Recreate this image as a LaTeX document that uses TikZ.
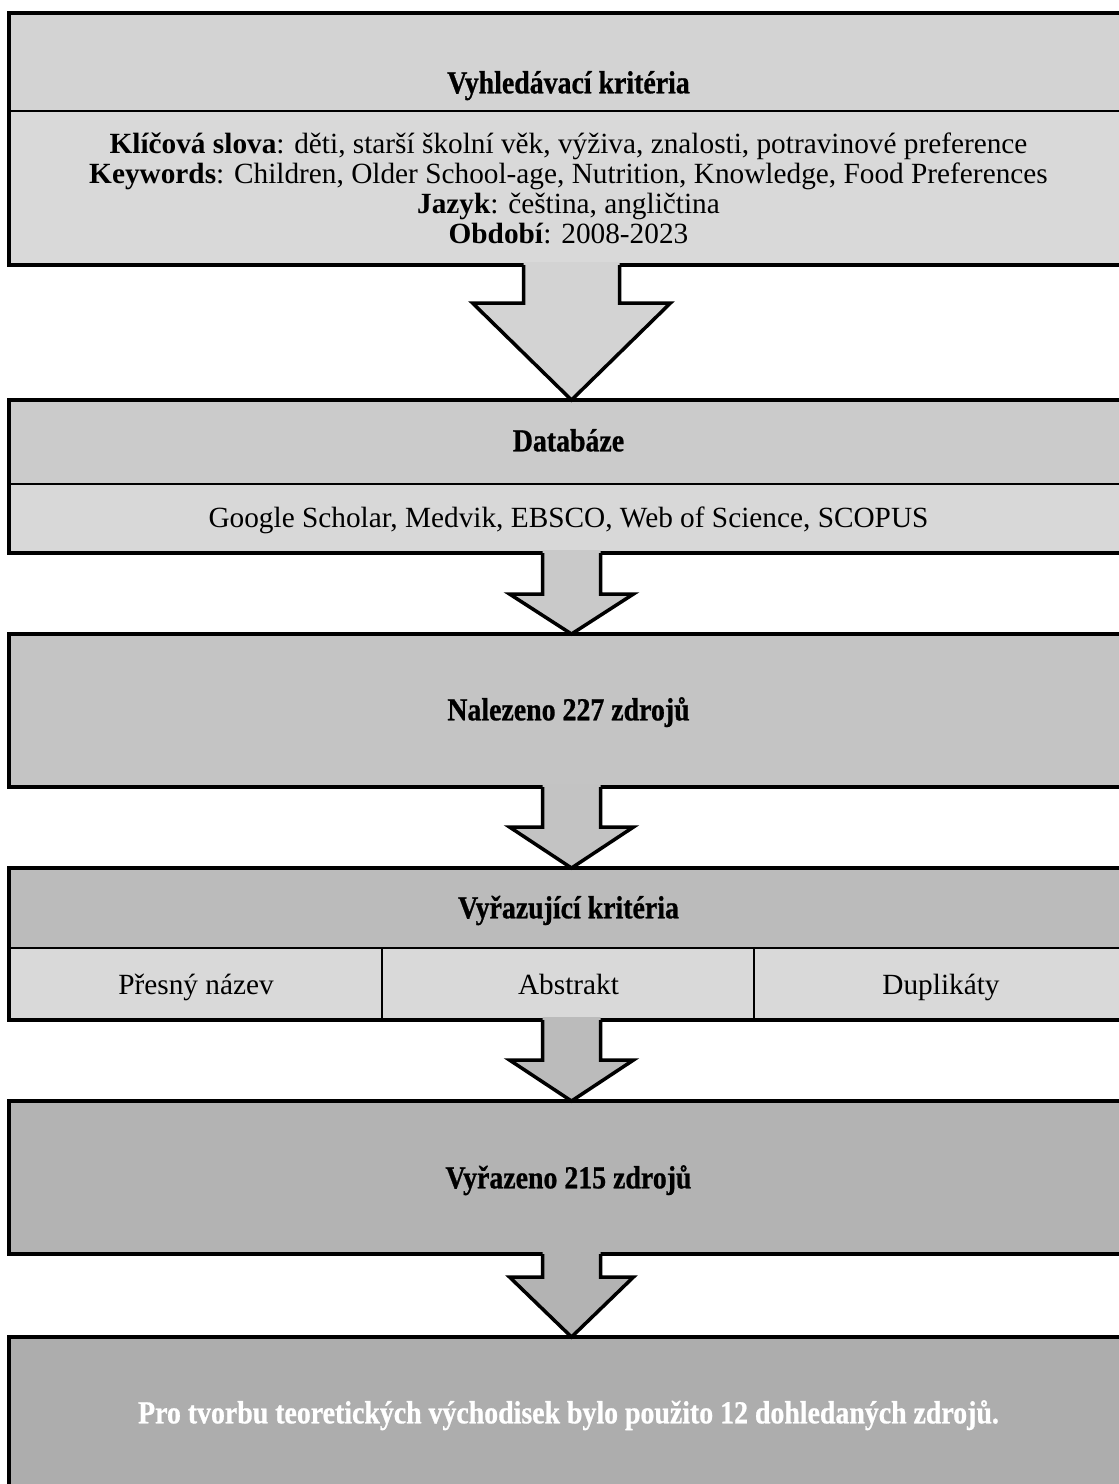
\documentclass[tikz,border=0pt]{standalone}
\usepackage{fontspec}
\setmainfont{Liberation Serif}
\newfontfamily\hdrfont[FakeStretch=0.87,FakeBold=0.8]{Liberation Serif}
\usetikzlibrary{calc}
\definecolor{cAh}{gray}{0.827}
\definecolor{cAb}{gray}{0.851}
\definecolor{cBh}{gray}{0.796}
\definecolor{cBb}{gray}{0.847}
\definecolor{cC}{gray}{0.769}
\definecolor{cDh}{gray}{0.733}
\definecolor{cDb}{gray}{0.851}
\definecolor{cE}{gray}{0.702}
\definecolor{cF}{gray}{0.678}
\definecolor{arA}{gray}{0.827}
\definecolor{arB}{gray}{0.788}
\definecolor{arC}{gray}{0.765}
\definecolor{arD}{gray}{0.733}
\definecolor{arE}{gray}{0.702}
\tikzset{
  panel/.style={draw=black, line width=2.5pt, inner sep=0pt, outer sep=0pt},
  outerbox/.style={draw=black, line width=4pt, inner sep=0pt, outer sep=0pt},
  hdrtext/.style={font=\hdrfont\bfseries\fontsize{32}{34}\selectfont, text height=0.66em, text depth=0pt, inner sep=0pt},
  bodytext/.style={font=\fontsize{29.3}{30}\selectfont, text height=0.66em, text depth=0pt, inner sep=0pt},
  arrowline/.style={draw=black, line width=3.5pt, line join=miter},
}
\begin{document}
\begin{tikzpicture}[x=1pt,y=-1pt]
\useasboundingbox (0,0) rectangle (1119,1484);
\clip (0,0) rectangle (1119,1484);
% ---- box 1
\node[panel, fill=cAh, minimum width=1126pt, minimum height=98pt, anchor=north west] (b1h) at (9,13) {};
\node[panel, fill=cAb, minimum width=1126pt, minimum height=154pt, anchor=north west] (b1b) at (9,111) {};
\node[outerbox, minimum width=1126pt, minimum height=252pt, anchor=north west] (b1) at (9,13) {};
\node[hdrtext] (t1) at (568.5,90) {Vyhledávací kritéria};
\node[font=\fontsize{29.3}{30}\selectfont, align=center, inner sep=0pt] (t1b) at (568.5,188)
 {\textbf{Klíčová slova}: děti, starší školní věk, výživa, znalosti, potravinové preference\\
  \textbf{Keywords}: Children, Older School-age, Nutrition, Knowledge, Food Preferences\\
  \textbf{Jazyk}: čeština, angličtina\\
  \textbf{Období}: 2008-2023};
% ---- box 2
\node[panel, fill=cBh, minimum width=1126pt, minimum height=84pt, anchor=north west] (b2h) at (9,400) {};
\node[panel, fill=cBb, minimum width=1126pt, minimum height=69pt, anchor=north west] (b2b) at (9,484) {};
\node[outerbox, minimum width=1126pt, minimum height=153pt, anchor=north west] (b2) at (9,400) {};
\node[hdrtext] (t2) at (568.5,448) {Databáze};
\node[bodytext] (t2b) at (568.5,524) {Google Scholar, Medvik, EBSCO, Web of Science, SCOPUS};
% ---- box 3
\node[outerbox, fill=cC, minimum width=1126pt, minimum height=153pt, anchor=north west] (b3) at (9,634) {};
\node[hdrtext] (t3) at (568.5,717) {Nalezeno 227 zdrojů};
% ---- box 4
\node[panel, fill=cDh, minimum width=1126pt, minimum height=80pt, anchor=north west] (b4h) at (9,868) {};
\node[panel, fill=cDb, minimum width=373pt, minimum height=72pt, anchor=north west] (b4a) at (9,948) {};
\node[panel, fill=cDb, minimum width=372pt, minimum height=72pt, anchor=north west] (b4b) at (382,948) {};
\node[panel, fill=cDb, minimum width=381pt, minimum height=72pt, anchor=north west] (b4c) at (754,948) {};
\node[outerbox, minimum width=1126pt, minimum height=152pt, anchor=north west] (b4) at (9,868) {};
\node[hdrtext] (t4) at (568.5,915) {Vyřazující kritéria};
\node[bodytext] (t4a) at (196,991) {Přesný název};
\node[bodytext] (t4b) at (568.5,991) {Abstrakt};
\node[bodytext] (t4c) at (941,991) {Duplikáty};
% ---- box 5
\node[outerbox, fill=cE, minimum width=1126pt, minimum height=153pt, anchor=north west] (b5) at (9,1101) {};
\node[hdrtext] (t5) at (568.5,1185) {Vyřazeno 215 zdrojů};
% ---- box 6
\node[outerbox, fill=cF, minimum width=1126pt, minimum height=170pt, anchor=north west] (b6) at (9,1337) {};
\node[hdrtext, text=white] (t6) at (568.5,1420) {Pro tvorbu teoretických východisek bylo použito 12 dohledaných zdrojů.};
% ---- arrows
\foreach \src/\dst/\sw/\hw/\hb/\col in {b1/b2/48/99/38/arA, b2/b3/29/62/41/arB, b3/b4/29/62/40/arC, b4/b5/29/62/40/arD, b5/b6/29/62/23/arE}{
  \coordinate (s) at ($(\src.south)+(-0.5,0)$);
  \coordinate (d) at ($(\dst.north)+(-0.5,0)$);
  \path[fill=\col] ($(s)+(-\sw,-3)$) -- ($(s)+(-\sw,\hb)$) -- ($(s)+(-\hw,\hb)$) -- (d) -- ($(s)+(\hw,\hb)$) -- ($(s)+(\sw,\hb)$) -- ($(s)+(\sw,-3)$) -- cycle;
  \draw[arrowline] ($(s)+(-\sw,0)$) -- ($(s)+(-\sw,\hb)$) -- ($(s)+(-\hw,\hb)$) -- (d) -- ($(s)+(\hw,\hb)$) -- ($(s)+(\sw,\hb)$) -- ($(s)+(\sw,0)$);
}
\end{tikzpicture}
\end{document}
